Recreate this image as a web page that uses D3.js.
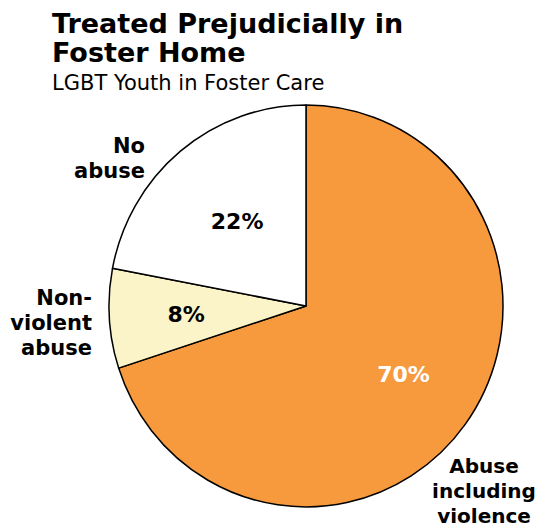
<!DOCTYPE html>
<html>
<head>
<meta charset="utf-8">
<script src="https://cdn.jsdelivr.net/npm/d3@7"></script>
<style>
  html, body { margin: 0; padding: 0; background: #fff; }
  svg { display: block; }
  text { font-family: "DejaVu Sans", Verdana, sans-serif; }
</style>
</head>
<body>
<svg id="chart" width="540" height="527"></svg>
<script>
// Slices, clockwise from 12 o'clock
const categories = ["Abuse including violence", "Non-violent abuse", "No abuse"];
const values = [70, 8, 22];
const colors = ["#F79A3E", "#FAF4C8", "#FFFFFF"];
const labelLines = [["Abuse", "including", "violence"], ["Non-", "violent", "abuse"], ["No", "abuse"]];

const svg = d3.select("#chart");
const cx = 306, cy = 306, R = 197;
const yStretch = 1.02;

// Title block
svg.append("text").attr("x", 52).attr("y", 33)
  .attr("font-size", 27).attr("font-weight", "bold").attr("fill", "#000")
  .text("Treated Prejudicially in");
svg.append("text").attr("x", 52).attr("y", 62)
  .attr("font-size", 27).attr("font-weight", "bold").attr("fill", "#000")
  .text("Foster Home");
svg.append("text").attr("x", 52).attr("y", 90)
  .attr("font-size", 21).attr("fill", "#000")
  .text("LGBT Youth in Foster Care");

const pie = d3.pie().sort(null).value(d => d.value);
const data = categories.map((c, i) => ({ name: c, value: values[i], color: colors[i], lines: labelLines[i] }));
const arcs = pie(data);

const arc = d3.arc().innerRadius(0).outerRadius(R);

const g = svg.append("g").attr("transform", `translate(${cx},${cy}) scale(1,${yStretch})`);

g.selectAll("path.slice").data(arcs).enter().append("path")
  .attr("class", "slice")
  .attr("d", arc)
  .attr("fill", d => d.data.color)
  .attr("stroke", "#000")
  .attr("stroke-width", 1.5)
  .attr("stroke-linejoin", "round")
  .attr("vector-effect", "non-scaling-stroke");

// Percentage labels inside the slices, placed along each slice's mid-angle
const pctRadius = [118, 120, 108];
arcs.forEach((d, i) => {
  const a = (d.startAngle + d.endAngle) / 2 - (i === 0 ? 0.03 : 0);
  const x = cx + Math.sin(a) * pctRadius[i];
  const y = cy - Math.cos(a) * pctRadius[i] * yStretch;
  svg.append("text")
    .attr("x", x).attr("y", y)
    .attr("text-anchor", "middle")
    .attr("dy", "0.36em")
    .attr("font-size", 22).attr("font-weight", "bold")
    .attr("fill", i === 0 ? "#fff" : "#000")
    .text(d.data.value + "%");
});

// Category labels outside the pie
const outside = [
  { x: 484, y: 473, anchor: "middle", size: 20 },
  { x: 92, y: 305, anchor: "end", size: 21 },
  { x: 145, y: 153, anchor: "end", size: 21 }
];
arcs.forEach((d, i) => {
  const p = outside[i];
  const t = svg.append("text")
    .attr("x", p.x).attr("y", p.y)
    .attr("text-anchor", p.anchor)
    .attr("font-size", p.size).attr("font-weight", "bold").attr("fill", "#000");
  d.data.lines.forEach((line, j) => {
    t.append("tspan").attr("x", p.x).attr("y", p.y + j * 25).text(line);
  });
});
</script>
</body>
</html>
